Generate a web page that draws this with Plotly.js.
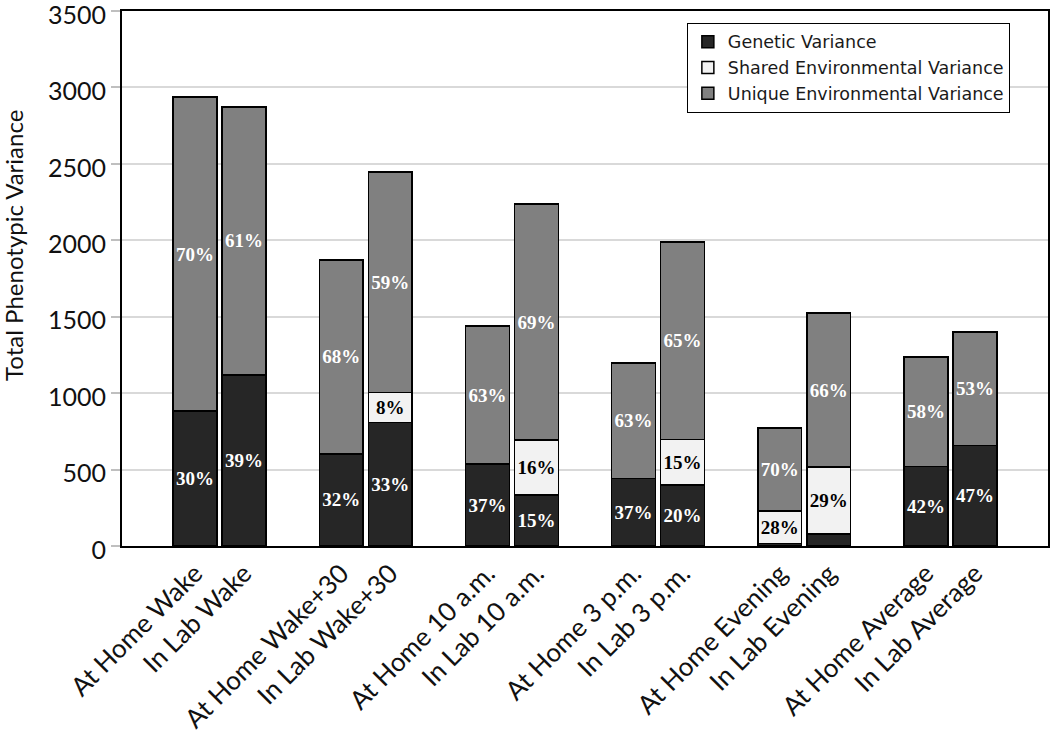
<!DOCTYPE html>
<html>
<head>
<meta charset="utf-8">
<script src="https://cdn.plot.ly/plotly-3.0.1.min.js"></script>
<style>html,body{margin:0;padding:0;background:#fff;}#chart{width:1050px;height:737px;}</style>
</head>
<body>
<div id="chart"></div>
<script>
const categories = ["At Home Wake","In Lab Wake","At Home Wake+30","In Lab Wake+30","At Home 10 a.m.","In Lab 10 a.m.","At Home 3 p.m.","In Lab 3 p.m.","At Home Evening","In Lab Evening","At Home Average","In Lab Average"];
const geneticValues = [883, 1119, 602, 807, 535, 335, 443, 398, 15, 78, 519, 658];
const sharedValues  = [0, 0, 0, 196, 0, 358, 0, 298, 215, 439, 0, 0];
const uniqueValues  = [2054, 1753, 1269, 1444, 904, 1544, 754, 1293, 542, 1007, 717, 742];
const geneticLabels = ["30%","39%","32%","33%","37%","15%","37%","20%","","","42%","47%"];
const sharedLabels  = ["","","","8%","","16%","","15%","28%","29%","",""];
const uniqueLabels  = ["70%","61%","68%","59%","63%","69%","63%","65%","70%","66%","58%","53%"];
const yTicks = [0, 500, 1000, 1500, 2000, 2500, 3000, 3500];
const yTitle = "Total Phenotypic Variance";

// positions: pairs grouped, small gap inside pair
const xPos = categories.map((c, i) => Math.floor(i / 2) + ((i % 2) - 0.5) * 0.335);
const barW = 0.30;
const labelFont = {family: "Liberation Serif, Times New Roman, serif", size: 19, weight: "bold"};

function mk(name, vals, txt, color, tcolor) {
  return {
    type: "bar", name: name, x: xPos, y: vals, width: barW,
    text: txt, textposition: "inside", insidetextanchor: "middle", textangle: 0,
    constraintext: "none",
    textfont: Object.assign({}, labelFont, {color: tcolor}),
    marker: {color: color, line: {color: "#000000", width: 1.5}},
    hoverinfo: "skip"
  };
}

const traces = [
  mk("Genetic Variance", geneticValues, geneticLabels, "#262626", "#ffffff"),
  mk("Shared Environmental Variance", sharedValues, sharedLabels, "#f2f2f2", "#000000"),
  mk("Unique Environmental Variance", uniqueValues, uniqueLabels, "#808080", "#ffffff")
];

const sans = "Lato, Carlito, Calibri, sans-serif";
const layout = {
  width: 1050, height: 737,
  margin: {l: 122, r: 2, t: 11, b: 191},
  paper_bgcolor: "#ffffff", plot_bgcolor: "#ffffff",
  barmode: "stack",
  showlegend: true,
  legend: {
    x: 0.61, y: 0.978, xanchor: "left", yanchor: "top",
    bgcolor: "#ffffff", bordercolor: "#000000", borderwidth: 1,
    traceorder: "normal",
    font: {family: "DejaVu Sans, sans-serif", size: 17.5, color: "#1a1a1a"},
    itemwidth: 30, tracegroupgap: 0
  },
  xaxis: {
    range: [-0.667, 5.667],
    tickmode: "array", tickvals: xPos, ticktext: categories,
    tickangle: -45, ticks: "",
    tickfont: {family: sans, size: 26, color: "#111111"},
    showgrid: false, zeroline: false,
    showline: true, linecolor: "#000000", linewidth: 2, mirror: true
  },
  yaxis: {
    range: [0, 3500],
    tickmode: "array", tickvals: yTicks,
    ticklabeloverflow: "allow",
    ticklabelshift: 4,
    ticks: "outside", ticklen: 9, tickcolor: "#bfbfbf", tickwidth: 2,
    tickfont: {family: sans, size: 25, color: "#111111"},
    showgrid: true, gridcolor: "#d9d9d9", gridwidth: 2,
    zeroline: false,
    showline: true, linecolor: "#000000", linewidth: 2, mirror: true
  },
  annotations: [{
    text: yTitle, textangle: -90, showarrow: false,
    xref: "paper", yref: "paper", x: -0.1166, y: 0.561,
    xanchor: "center", yanchor: "middle",
    font: {family: sans, size: 24, color: "#111111"}
  }]
};

Plotly.newPlot("chart", traces, layout, {displayModeBar: false, staticPlot: true});
</script>
</body>
</html>
